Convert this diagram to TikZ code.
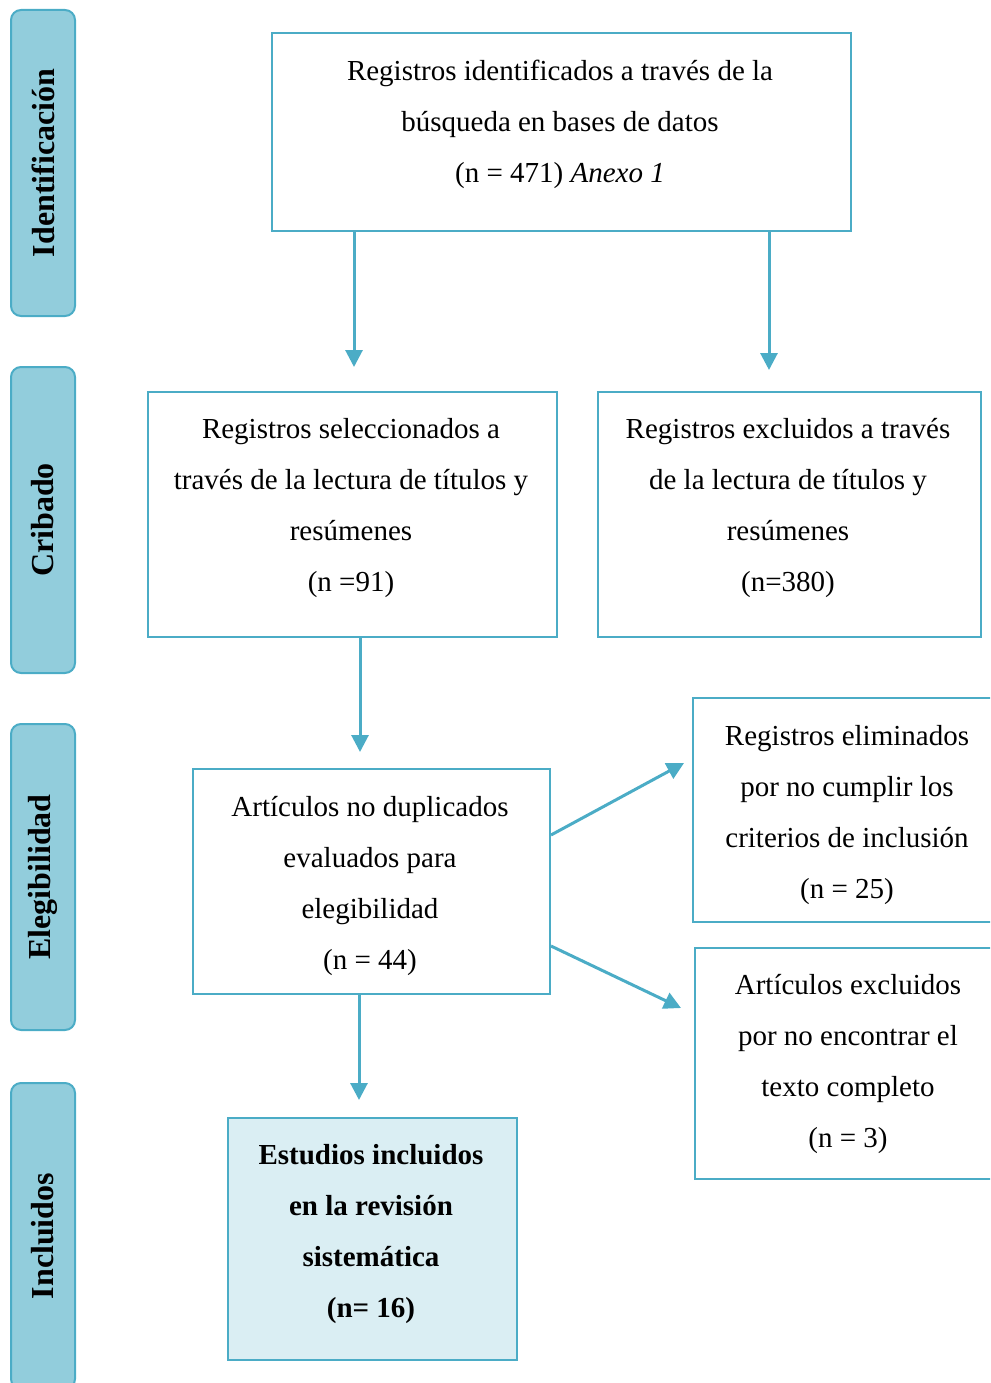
\documentclass[tikz,border=0pt]{standalone}
\usepackage{fontspec}
\setmainfont{Liberation Serif}
\usetikzlibrary{arrows.meta,calc}
\definecolor{bord}{HTML}{4BACC6}
\definecolor{sidefill}{HTML}{92CDDC}
\definecolor{incfill}{HTML}{DAEEF3}
\begin{document}
\begin{tikzpicture}[x=1pt,y=-1pt,
 box/.style={draw=bord,line width=2pt,anchor=north west,inner sep=0pt},
 side/.style={draw=bord,fill=sidefill,line width=2pt,rounded corners=10pt,rotate=90,minimum width=306pt,minimum height=64pt,inner sep=0pt,font=\fontsize{32}{38}\selectfont\bfseries},
 txt/.style={align=center,font=\fontsize{29}{51}\selectfont,inner sep=0pt},
 arr/.style={draw=bord,line width=3pt,-{Triangle[length=17pt,width=17pt]}}]
\useasboundingbox (0,0) rectangle (990,1383);
\clip (0,0) rectangle (990,1383);
% sidebars
\node[side] (s1) at (43,163) {Identificación};
\node[side] (s2) at (43,520) {Cribado};
\node[side] (s3) at (43,877) {Elegibilidad};
\node[side] (s4) at (43,1236) {Incluidos};
% boxes
\node[box,minimum width=579pt,minimum height=198pt] (b1) at (271,32) {};
\node[box,minimum width=409pt,minimum height=245pt] (b2) at (147,391) {};
\node[box,minimum width=383pt,minimum height=245pt] (b3) at (597,391) {};
\node[box,minimum width=357pt,minimum height=225pt] (b4) at (192,768) {};
\node[box,minimum width=310pt,minimum height=224pt] (b5) at (692,697) {};
\node[box,minimum width=310pt,minimum height=231pt] (b6) at (694,947) {};
\node[box,fill=incfill,minimum width=289pt,minimum height=242pt] (b7) at (227,1117) {};
% texts
\node[txt] (t1) at (560,124) {Registros identificados a través de la\\búsqueda en bases de datos\\(n = 471) \textit{Anexo 1}};
\node[txt] (t2) at (351,508) {Registros seleccionados a\\través de la lectura de títulos y\\resúmenes\\(n =91)};
\node[txt] (t3) at (788,508) {Registros excluidos a través\\de la lectura de títulos y\\resúmenes\\(n=380)};
\node[txt] (t4) at (370,886) {Artículos no duplicados\\evaluados para\\elegibilidad\\(n = 44)};
\node[txt] (t5) at (847,815) {Registros eliminados\\por no cumplir los\\criterios de inclusión\\(n = 25)};
\node[txt] (t6) at (848,1064) {Artículos excluidos\\por no encontrar el\\texto completo\\(n = 3)};
\node[txt,font=\fontsize{29}{51}\selectfont\bfseries] (t7) at (371,1234) {Estudios incluidos\\en la revisión\\sistemática\\(n= 16)};
% arrows
\coordinate (e1) at (354,367);
\coordinate (e2) at (769,370);
\coordinate (e3) at (360,752);
\coordinate (e4) at (684,763);
\coordinate (e5) at (681,1008);
\coordinate (e6) at (359,1100);
\draw[arr] (b1.south -| e1) -- (e1);
\draw[arr] (b1.south -| e2) -- (e2);
\draw[arr] (b2.south -| e3) -- (e3);
\draw[arr] ($(b4.north east)+(0,67)$) -- (e4);
\draw[arr] ($(b4.north east)+(0,178)$) -- (e5);
\draw[arr] (b4.south -| e6) -- (e6);
\end{tikzpicture}
\end{document}
